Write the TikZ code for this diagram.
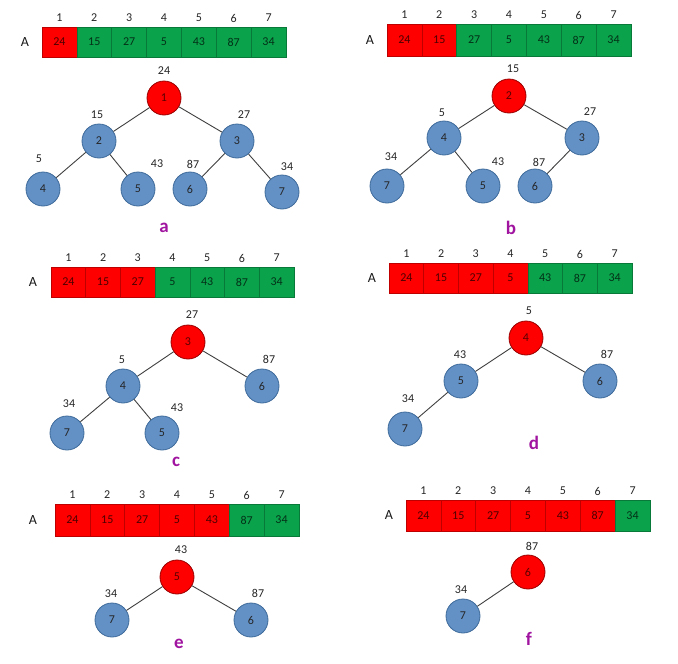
\documentclass[tikz,border=0pt]{standalone}
\usepackage{fontspec}
\setmainfont{Carlito}
\definecolor{cred}{HTML}{FF0000}
\definecolor{cgreen}{HTML}{0BA24C}
\definecolor{cblue}{HTML}{6391C6}
\definecolor{cblueb}{HTML}{3E6A9A}
\definecolor{cpurp}{HTML}{A0149F}
\definecolor{cline}{HTML}{404040}
\tikzset{
  txt/.style={font=\fontsize{12}{14}\selectfont, inner sep=0pt, text=black!85},
  idx/.style={txt},
  albl/.style={font=\fontsize{14}{16}\selectfont, inner sep=0pt, text=black!90},
  cell/.style={draw=#1!75!black, fill=#1, line width=0.6pt, inner sep=0pt, txt, text=#1!30!black},
  hnode/.style={circle, minimum size=34pt, inner sep=0pt, fill=cblue, draw=cblueb, line width=0.8pt, txt, text=black!85},
  rnode/.style={hnode, fill=cred, draw=red!60!black, text=red!35!black},
  vlbl/.style={txt},
  capl/.style={font=\fontsize{19}{21}\selectfont\bfseries, text=cpurp, inner sep=0pt},
  conn/.style={draw=cline, line width=0.9pt}
}
% #1 prefix, #2 left, #3 top, #4 total width, #5 height, #6 number of red cells, #7 x of A
\newcommand\heaparr[7]{%
  \node[albl] (#1A) at (#7,#3+#5/2) {A};
  \foreach \v [count=\i] in {24,15,27,5,43,87,34}{
    \pgfmathsetmacro\cx{#2+(\i-0.5)*#4/7}
    \ifnum\i>#6 \def\cc{cgreen}\else\def\cc{cred}\fi
    \node[cell=\cc, minimum width=#4/7, minimum height=#5] (#1c\i) at (\cx,#3+#5/2) {\v};
    \node[idx] (#1i\i) at (\cx,#3-9) {\i};
  }%
}
\begin{document}
\begin{tikzpicture}[x=1pt,y=-1pt]
\useasboundingbox (0,0) rectangle (678,664);
\fill[white] (0,0) rectangle (678,664);

% ---------- a ----------
\heaparr{a}{42}{27}{244}{30}{1}{25}
\node[rnode] (a1) at (164,98) {1};
\node[hnode] (a2) at (99,141) {2};
\node[hnode] (a3) at (237,141) {3};
\node[hnode] (a4) at (43,189) {4};
\node[hnode] (a5) at (138,189) {5};
\node[hnode] (a6) at (190,189) {6};
\node[hnode] (a7) at (282,192) {7};
\node[vlbl] (av1) at (164,71) {24};
\node[vlbl] (av2) at (97,115) {15};
\node[vlbl] (av3) at (244,115) {27};
\node[vlbl] (av4) at (39,159) {5};
\node[vlbl] (av5) at (157,164) {43};
\node[vlbl] (av6) at (193,164) {87};
\node[vlbl] (av7) at (287,167) {34};
\draw[conn] (a1) -- (a2); \draw[conn] (a1) -- (a3);
\draw[conn] (a2) -- (a4); \draw[conn] (a2) -- (a5);
\draw[conn] (a3) -- (a6); \draw[conn] (a3) -- (a7);
\node[capl] (acap) at (164,228) {a};

% ---------- b ----------
\heaparr{b}{387}{24}{244}{32}{2}{370}
\node[rnode] (b2) at (509,96) {2};
\node[hnode] (b4) at (444,138) {4};
\node[hnode] (b3) at (582,138) {3};
\node[hnode] (b7) at (387,186) {7};
\node[hnode] (b5) at (483,186) {5};
\node[hnode] (b6) at (535,186) {6};
\node[vlbl] (bv2) at (513,69) {15};
\node[vlbl] (bv4) at (442,113) {5};
\node[vlbl] (bv3) at (590,112) {27};
\node[vlbl] (bv7) at (391,157) {34};
\node[vlbl] (bv5) at (498,162) {43};
\node[vlbl] (bv6) at (539,162) {87};
\draw[conn] (b2) -- (b4); \draw[conn] (b2) -- (b3);
\draw[conn] (b4) -- (b7); \draw[conn] (b4) -- (b5);
\draw[conn] (b3) -- (b6);
\node[capl] (bcap) at (511,228) {b};

% ---------- c ----------
\heaparr{c}{51}{267}{243}{30}{3}{33}
\node[rnode] (c3) at (188,342) {3};
\node[hnode] (c4) at (123,386) {4};
\node[hnode] (c6) at (262,386) {6};
\node[hnode] (c7) at (67,433) {7};
\node[hnode] (c5) at (162,433) {5};
\node[vlbl] (cv3) at (192,315) {27};
\node[vlbl] (cv4) at (122,360) {5};
\node[vlbl] (cv6) at (269,359) {87};
\node[vlbl] (cv7) at (69,404) {34};
\node[vlbl] (cv5) at (177,408) {43};
\draw[conn] (c3) -- (c4); \draw[conn] (c3) -- (c6);
\draw[conn] (c4) -- (c7); \draw[conn] (c4) -- (c5);
\node[capl] (ccap) at (176,462) {c};

% ---------- d ----------
\heaparr{d}{389}{263}{243}{30}{4}{372}
\node[rnode] (d4) at (526,338) {4};
\node[hnode] (d5) at (461,381) {5};
\node[hnode] (d6) at (600,381) {6};
\node[hnode] (d7) at (405,429) {7};
\node[vlbl] (dv4) at (529,311) {5};
\node[vlbl] (dv5) at (460,355) {43};
\node[vlbl] (dv6) at (607,354) {87};
\node[vlbl] (dv7) at (408,399) {34};
\draw[conn] (d4) -- (d5); \draw[conn] (d4) -- (d6);
\draw[conn] (d5) -- (d7);
\node[capl] (dcap) at (534,443) {d};

% ---------- e ----------
\heaparr{e}{55}{504}{244}{32}{5}{33}
\node[rnode] (e5) at (177,577) {5};
\node[hnode] (e7) at (112,620) {7};
\node[hnode] (e6) at (251,620) {6};
\node[vlbl] (ev5) at (181,550) {43};
\node[vlbl] (ev7) at (111,594) {34};
\node[vlbl] (ev6) at (258,593) {87};
\draw[conn] (e5) -- (e7); \draw[conn] (e5) -- (e6);
\node[capl] (ecap) at (179,644) {e};

% ---------- f ----------
\heaparr{f}{406}{500}{244}{31}{6}{389}
\node[rnode] (f6) at (528,572) {6};
\node[hnode] (f7) at (463,616) {7};
\node[vlbl] (fv6) at (532,546) {87};
\node[vlbl] (fv7) at (461,590) {34};
\draw[conn] (f6) -- (f7);
\node[capl] (fcap) at (529,639) {f};
\end{tikzpicture}
\end{document}
